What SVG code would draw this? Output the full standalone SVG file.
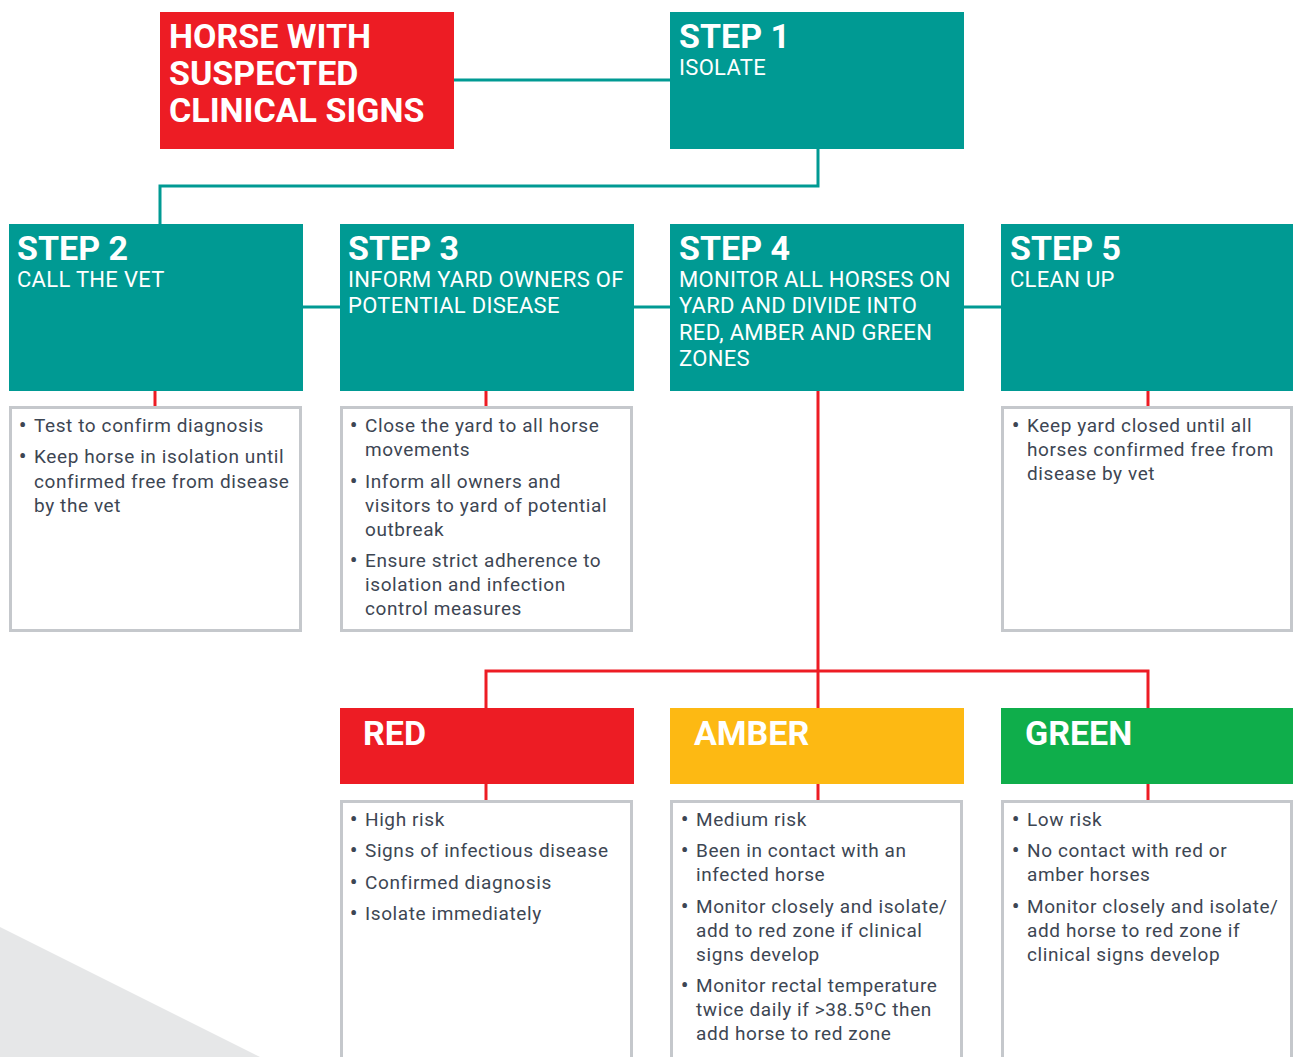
<svg xmlns="http://www.w3.org/2000/svg" width="1293" height="1057" viewBox="0 0 1293 1057">
  <style>
    .teal { fill: #009a93; }
    .red { fill: #ed1c24; }
    .amber { fill: #fdb913; }
    .green { fill: #0fae4b; }
    .list { fill: #ffffff; stroke: #c5c8cc; stroke-width: 3; }
    .title { font-family: Roboto, "Liberation Sans", sans-serif; font-weight: 700; font-size: 34px; fill: #ffffff; }
    .sub { font-family: Roboto, "Liberation Sans", sans-serif; font-weight: 400; font-size: 22px; letter-spacing: 0.3px; fill: #ffffff; }
    .item { font-family: Roboto, "Liberation Sans", sans-serif; font-weight: 400; font-size: 19px; letter-spacing: 0.6px; fill: #3d4653; }
    .dot { font-family: Roboto, "Liberation Sans", sans-serif; font-weight: 700; font-size: 20px; fill: #3d4653; }
    .tline { fill: none; stroke: #009a93; stroke-width: 3; }
    .rline { fill: none; stroke: #ed1c24; stroke-width: 3; }
  </style>

  <!-- background wedge -->
  <polygon points="0,927 260,1057 0,1057" fill="#e6e7e8"/>

  <!-- connectors -->
  <g id="connectors">
    <path class="tline" d="M454,80 H670"/>
    <path class="tline" d="M818,149 V186 H160 V224"/>
    <path class="tline" d="M303,307 H1001"/>
    <path class="rline" d="M155,391 V407"/>
    <path class="rline" d="M486,391 V407"/>
    <path class="rline" d="M1148,391 V407"/>
    <path class="rline" d="M818,391 V708"/>
    <path class="rline" d="M486,708 V671 H1148 V708"/>
    <path class="rline" d="M486,784 V800"/>
    <path class="rline" d="M818,784 V800"/>
    <path class="rline" d="M1148,784 V800"/>
  </g>

  <g id="suspected">
    <rect class="red" x="160" y="12" width="294" height="137"/>
    <text class="title" x="169" y="48">HORSE WITH</text>
    <text class="title" x="169" y="85">SUSPECTED</text>
    <text class="title" x="169" y="122">CLINICAL SIGNS</text>
  </g>

  <g id="step1">
    <rect class="teal" x="670" y="12" width="294" height="137"/>
    <text class="title" x="679" y="48">STEP 1</text>
    <text class="sub" x="679" y="75">ISOLATE</text>
  </g>

  <g id="step2">
    <rect class="teal" x="9" y="224" width="294" height="167"/>
    <text class="title" x="17" y="260">STEP 2</text>
    <text class="sub" x="17" y="287">CALL THE VET</text>
  </g>
  <g id="step2-notes">
    <rect class="list" x="10.5" y="407.5" width="290" height="223"/>
    <text class="dot" x="19" y="432">•</text><text class="item" x="34" y="432">Test to confirm diagnosis</text>
    <text class="dot" x="19" y="463">•</text><text class="item" x="34" y="463">Keep horse in isolation until</text>
    <text class="item" x="34" y="488">confirmed free from disease</text>
    <text class="item" x="34" y="512">by the vet</text>
  </g>

  <g id="step3">
    <rect class="teal" x="340" y="224" width="294" height="167"/>
    <text class="title" x="348" y="260">STEP 3</text>
    <text class="sub" x="348" y="287">INFORM YARD OWNERS OF</text>
    <text class="sub" x="348" y="313">POTENTIAL DISEASE</text>
  </g>
  <g id="step3-notes">
    <rect class="list" x="341.5" y="407.5" width="290" height="223"/>
    <text class="dot" x="350" y="432">•</text><text class="item" x="365" y="432">Close the yard to all horse</text>
    <text class="item" x="365" y="456">movements</text>
    <text class="dot" x="350" y="488">•</text><text class="item" x="365" y="488">Inform all owners and</text>
    <text class="item" x="365" y="512">visitors to yard of potential</text>
    <text class="item" x="365" y="536">outbreak</text>
    <text class="dot" x="350" y="567">•</text><text class="item" x="365" y="567">Ensure strict adherence to</text>
    <text class="item" x="365" y="591">isolation and infection</text>
    <text class="item" x="365" y="615">control measures</text>
  </g>

  <g id="step4">
    <rect class="teal" x="670" y="224" width="294" height="167"/>
    <text class="title" x="679" y="260">STEP 4</text>
    <text class="sub" x="679" y="287">MONITOR ALL HORSES ON</text>
    <text class="sub" x="679" y="313">YARD AND DIVIDE INTO</text>
    <text class="sub" x="679" y="340">RED, AMBER AND GREEN</text>
    <text class="sub" x="679" y="366">ZONES</text>
  </g>

  <g id="step5">
    <rect class="teal" x="1001" y="224" width="292" height="167"/>
    <text class="title" x="1010" y="260">STEP 5</text>
    <text class="sub" x="1010" y="287">CLEAN UP</text>
  </g>
  <g id="step5-notes">
    <rect class="list" x="1002.5" y="407.5" width="289" height="223"/>
    <text class="dot" x="1012" y="432">•</text><text class="item" x="1027" y="432">Keep yard closed until all</text>
    <text class="item" x="1027" y="456">horses confirmed free from</text>
    <text class="item" x="1027" y="480">disease by vet</text>
  </g>

  <g id="zone-red">
    <rect class="red" x="340" y="708" width="294" height="76"/>
    <text class="title" x="363" y="745">RED</text>
  </g>
  <g id="zone-red-notes">
    <rect class="list" x="341.5" y="801.5" width="290" height="270"/>
    <text class="dot" x="350" y="826">•</text><text class="item" x="365" y="826">High risk</text>
    <text class="dot" x="350" y="857">•</text><text class="item" x="365" y="857">Signs of infectious disease</text>
    <text class="dot" x="350" y="889">•</text><text class="item" x="365" y="889">Confirmed diagnosis</text>
    <text class="dot" x="350" y="920">•</text><text class="item" x="365" y="920">Isolate immediately</text>
  </g>

  <g id="zone-amber">
    <rect class="amber" x="670" y="708" width="294" height="76"/>
    <text class="title" x="694" y="745">AMBER</text>
  </g>
  <g id="zone-amber-notes">
    <rect class="list" x="671.5" y="801.5" width="290" height="270"/>
    <text class="dot" x="681" y="826">•</text><text class="item" x="696" y="826">Medium risk</text>
    <text class="dot" x="681" y="857">•</text><text class="item" x="696" y="857">Been in contact with an</text>
    <text class="item" x="696" y="881">infected horse</text>
    <text class="dot" x="681" y="913">•</text><text class="item" x="696" y="913">Monitor closely and isolate/</text>
    <text class="item" x="696" y="937">add to red zone if clinical</text>
    <text class="item" x="696" y="961">signs develop</text>
    <text class="dot" x="681" y="992">•</text><text class="item" x="696" y="992">Monitor rectal temperature</text>
    <text class="item" x="696" y="1016">twice daily if &gt;38.5ºC then</text>
    <text class="item" x="696" y="1040">add horse to red zone</text>
  </g>

  <g id="zone-green">
    <rect class="green" x="1001" y="708" width="292" height="76"/>
    <text class="title" x="1025" y="745">GREEN</text>
  </g>
  <g id="zone-green-notes">
    <rect class="list" x="1002.5" y="801.5" width="289" height="270"/>
    <text class="dot" x="1012" y="826">•</text><text class="item" x="1027" y="826">Low risk</text>
    <text class="dot" x="1012" y="857">•</text><text class="item" x="1027" y="857">No contact with red or</text>
    <text class="item" x="1027" y="881">amber horses</text>
    <text class="dot" x="1012" y="913">•</text><text class="item" x="1027" y="913">Monitor closely and isolate/</text>
    <text class="item" x="1027" y="937">add horse to red zone if</text>
    <text class="item" x="1027" y="961">clinical signs develop</text>
  </g>
</svg>
